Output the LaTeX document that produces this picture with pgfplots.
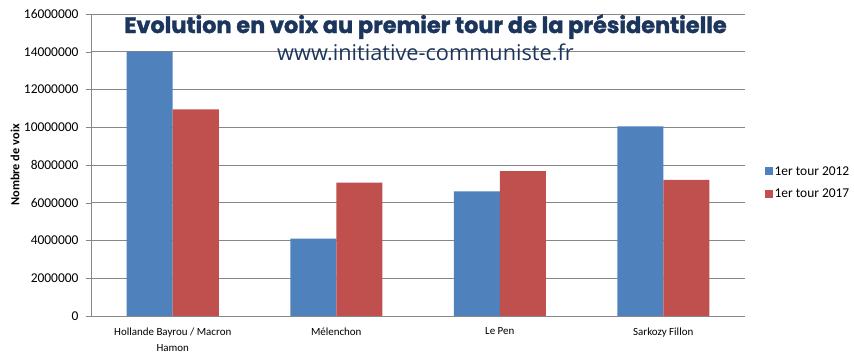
\documentclass[border=0pt]{standalone}
\usepackage{pgfplots}
\pgfplotsset{compat=1.18}
\usepackage{fontspec}
\setmainfont{Carlito}
\newfontfamily\titlefont{Poppins}[BoldFeatures={FakeBold=1.5}]
\newfontfamily\urlfont{Open Sans}
\definecolor{barblue}{HTML}{4F81BD}
\definecolor{barred}{HTML}{C0504D}
\definecolor{gridgray}{HTML}{878787}
\definecolor{titlenavy}{HTML}{1B355C}
\begin{document}
\begin{tikzpicture}
\path[use as bounding box] (-91bp,-46bp) rectangle (763bp,316bp);
\begin{axis}[
  at={(0,0)}, anchor=south west,
  scale only axis, width=654bp, height=302bp,
  ybar=0pt, bar width=46bp,
  xmin=-0.5, xmax=3.5, ymin=0, ymax=16000000,
  xtick={0,1,2,3},
  xticklabels={{Hollande Bayrou / Macron\\Hamon},{Mélenchon},{Le Pen},{Sarkozy Fillon}},
  xticklabel style={align=center, font=\fontsize{11}{16}\selectfont, yshift=-3bp},
  major x tick style={draw=none},
  extra x ticks={-0.5,0.5,1.5,2.5,3.5},
  extra x tick labels={},
  extra x tick style={major tick length=5bp, tick align=outside, tick style={draw=gridgray}, grid=none},
  ytick={0,2000000,...,16000000},
  scaled y ticks=false,
  yticklabel style={font=\fontsize{13.5}{15}\selectfont, xshift=-4bp, /pgf/number format/fixed, /pgf/number format/1000 sep={}, /pgf/number format/assume math mode=true},
  ymajorgrids, grid style={gridgray, line width=0.8bp},
  y tick style={draw=gridgray}, tick align=outside, major tick length=5bp,
  axis x line*=bottom, axis y line*=left,
  axis line style={gridgray, line width=0.8bp, -},
  ylabel={\bfseries Nombre de voix},
  ylabel style={at={(axis description cs:-0.116,0.5)}, anchor=center, font=\fontsize{12.4}{14}\selectfont},
  legend style={at={(axis description cs:1.025,0.442)}, anchor=west, draw=none, fill=none,
    font=\fontsize{13.5}{15}\selectfont, row sep=8bp,
    /tikz/every even column/.append style={column sep=2bp}},
  legend image code/.code={\fill[#1] (0bp,-4bp) rectangle (8bp,4bp);},
]
\addplot[fill=barblue, draw=none] coordinates {(0,14000000) (1,4100000) (2,6600000) (3,10050000)};
\addplot[fill=barred, draw=none] coordinates {(0,10950000) (1,7060000) (2,7680000) (3,7210000)};
\legend{1er tour 2012, 1er tour 2017}
\node[font=\titlefont\bfseries\fontsize{22.5}{24}\selectfont, text=titlenavy, anchor=base] at (axis description cs:0.5115,0.937) {Evolution en voix au premier tour de la présidentielle};
\node[font=\urlfont\fontsize{21.8}{24}\selectfont, text=titlenavy, anchor=base] at (axis description cs:0.5115,0.845) {www.initiative-communiste.fr};
\end{axis}
\end{tikzpicture}
\end{document}
